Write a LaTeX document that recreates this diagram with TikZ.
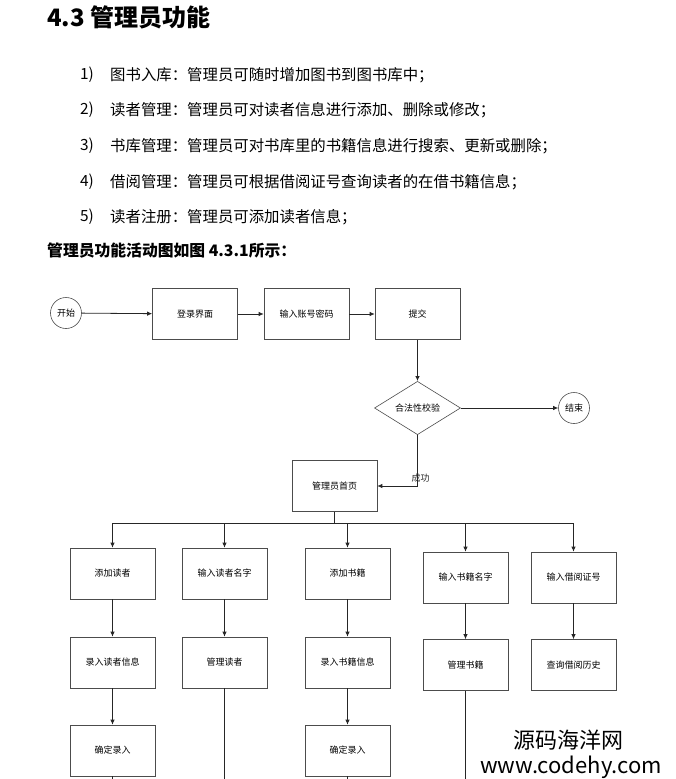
\documentclass[tikz,border=0pt]{standalone}
\usepackage{fontspec}
\setmainfont{Noto Sans CJK SC}
\usetikzlibrary{arrows.meta,positioning,shapes.geometric}
\tikzset{
  actbox/.style={draw=black!70, line width=0.6pt, minimum width=85pt, minimum height=51pt, inner sep=0pt, font=\fontsize{9}{10}\selectfont},
  termnd/.style={circle, draw=black!70, line width=0.6pt, minimum size=31pt, inner sep=0pt, font=\fontsize{9}{10}\selectfont},
  decnd/.style={diamond, draw=black!70, line width=0.6pt, minimum width=86pt, minimum height=50pt, inner sep=0pt, font=\fontsize{9}{10}\selectfont},
  flowln/.style={-{Latex[length=5pt,width=4.5pt]}, line width=0.8pt, black!85},
  plainln/.style={line width=0.8pt, black!85},
  itemtxt/.style={anchor=west, inner sep=0pt, font=\fontsize{15.4}{17}\selectfont},
}

\begin{document}
\begin{tikzpicture}[x=1pt,y=-1pt]
        \useasboundingbox (0,0) rectangle (676,779);
        % heading and list of functions
        \node[anchor=west, inner sep=0pt, font=\bfseries\fontsize{24}{26}\selectfont] (ttl) at (47,17) {4.3 管理员功能};
        \foreach \i/\y/\t in {1/75/图书入库：管理员可随时增加图书到图书库中；,
            2/110/读者管理：管理员可对读者信息进行添加、删除或修改；,
            3/146/书库管理：管理员可对书库里的书籍信息进行搜索、更新或删除；,
            4/182/借阅管理：管理员可根据借阅证号查询读者的在借书籍信息；,
            5/217/读者注册：管理员可添加读者信息；} {
          \node[itemtxt] (num\i) at (80,\y) {\i)};
          \node[itemtxt] (itm\i) at (110,\y) {\t};
        }
        \node[anchor=west, inner sep=0pt, font=\bfseries\fontsize{15.8}{17}\selectfont] (cap) at (47,251) {管理员功能活动图如图 4.3.1所示：};
        % login part
        \node[termnd] (start) at (66,313) {开始};
        \node[actbox] (login) at (195,314) {登录界面};
        \node[actbox] (input) at (306.5,314) {输入账号密码};
        \node[actbox] (submit) at (417.5,314) {提交};
        \node[decnd] (chk) at (417.5,408) {合法性校验};
        \node[termnd] (stop) at (574,408) {结束};
        \node[actbox] (home) at (334.5,486) {管理员首页};
        \draw[flowln] (start) -- (login);
        \draw[flowln] (login) -- (input);
        \draw[flowln] (input) -- (submit);
        \draw[flowln] (submit) -- (chk);
        \draw[flowln] (chk) -- (stop);
        \draw[flowln] (chk.south) |- (home.east)
          node[pos=0.5, above, xshift=3pt, font=\fontsize{9}{10}\selectfont]{成功};
        % five branches
        \node[actbox] (addr) at (112.5,573.5) {添加读者};
        \node[actbox] (rname) at (224.5,573.5) {输入读者名字};
        \node[actbox] (addb) at (347.5,573.5) {添加书籍};
        \node[actbox] (bname) at (465.5,577.5) {输入书籍名字};
        \node[actbox] (card) at (573.5,577.5) {输入借阅证号};
        \node[actbox] (rinfo) at (112.5,662.5) {录入读者信息};
        \node[actbox] (mgr) at (224.5,662.5) {管理读者};
        \node[actbox] (binfo) at (347.5,662.5) {录入书籍信息};
        \node[actbox] (mgb) at (465.5,665) {管理书籍};
        \node[actbox] (hist) at (573.5,665) {查询借阅历史};
        \node[actbox] (okr) at (112.5,750.5) {确定录入};
        \node[actbox] (okb) at (347.5,750.5) {确定录入};
        \coordinate (bus) at (0,523);
        \coordinate (btm) at (0,779);
        \draw[plainln] (home.south) -- (home.south |- bus);
        \draw[flowln] (home.south |- bus) -| (addr.north);
        \draw[flowln] (home.south |- bus) -| (addb.north);
        \draw[flowln] (home.south |- bus) -| (bname.north);
        \draw[flowln] (home.south |- bus) -| (card.north);
        \draw[flowln] (home.south) -- ++(0,12) -| (rname.north);
        \draw[flowln] (addr) -- (rinfo);
        \draw[flowln] (rinfo) -- (okr);
        \draw[flowln] (rname) -- (mgr);
        \draw[flowln] (addb) -- (binfo);
        \draw[flowln] (binfo) -- (okb);
        \draw[flowln] (bname) -- (mgb);
        \draw[flowln] (card) -- (hist);
        \draw[plainln] (okr.south) -- (okr.south |- btm);
        \draw[plainln] (mgr.south) -- (mgr.south |- btm);
        \draw[plainln] (okb.south) -- (okb.south |- btm);
        \draw[plainln] (mgb.south) -- (mgb.south |- btm);
        % watermark
        \node[inner sep=0pt, font=\fontsize{22}{24}\selectfont] (wm1) at (568,740) {源码海洋网};
        \node[inner sep=0pt, font=\fontsize{22}{24}\selectfont] (wm2) at (571,767) {www.codehy.com};
      \end{tikzpicture}
\end{document}
